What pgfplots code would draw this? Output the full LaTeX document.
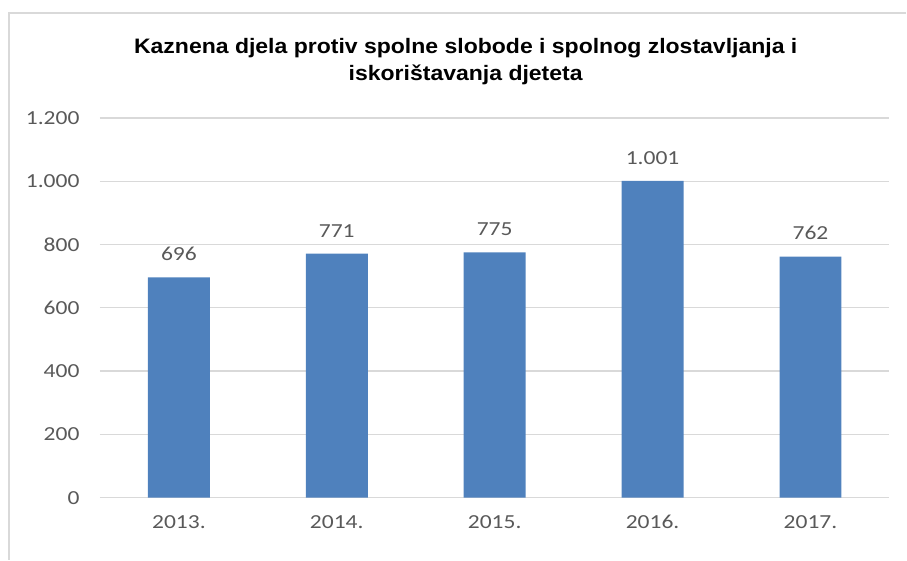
\documentclass[border=0pt]{standalone}
\usepackage{pgfplots}
\pgfplotsset{compat=1.18}
\usepackage{fontspec}
\setmainfont[FakeStretch=1.18]{Carlito}
\newfontfamily\titlefont[FakeStretch=1.1]{Liberation Sans}
\definecolor{barblue}{HTML}{4F81BD}
\definecolor{txtgray}{HTML}{595959}
\definecolor{gridgray}{HTML}{D9D9D9}
\begin{document}
\begin{tikzpicture}[x=1bp,y=1bp]
\path (0,0) rectangle (907,-560);
\draw[gridgray,line width=1.2bp] (9,-560) -- (9,-13) -- (907,-13);
\node[font=\titlefont\bfseries\fontsize{21}{27}\selectfont,align=center] at (466,-62)
  {Kaznena djela protiv spolne slobode i spolnog zlostavljanja i\\iskorištavanja djeteta};
\begin{axis}[
  at={(100bp,-498bp)}, anchor=south west,
  scale only axis, width=790bp, height=380bp,
  xmin=-0.5, xmax=4.5, ymin=0, ymax=1200,
  axis line style={draw=none},
  ytick={0,200,...,1200},
  xtick={0,1,2,3,4},
  xticklabels={2013.,2014.,2015.,2016.,2017.},
  major tick length=0pt,
  ymajorgrids,
  grid style={gridgray,line width=1.2bp},
  tick label style={font=\fontsize{20}{24}\selectfont,text=txtgray},
  /pgf/number format/assume math mode=true,
  /pgf/number format/1000 sep={.},
  yticklabel style={xshift=-17bp},
  xticklabel style={yshift=-14bp},
  nodes near coords,
  nodes near coords style={font=\fontsize{20}{24}\selectfont,text=txtgray,yshift=13bp,
    /pgf/number format/1000 sep={.}},
  clip=false,
]
\addplot[ybar, bar width=62bp, fill=barblue, draw=none] coordinates {
  (0,696) (1,771) (2,775) (3,1001) (4,762)
};
\end{axis}
\end{tikzpicture}
\end{document}
